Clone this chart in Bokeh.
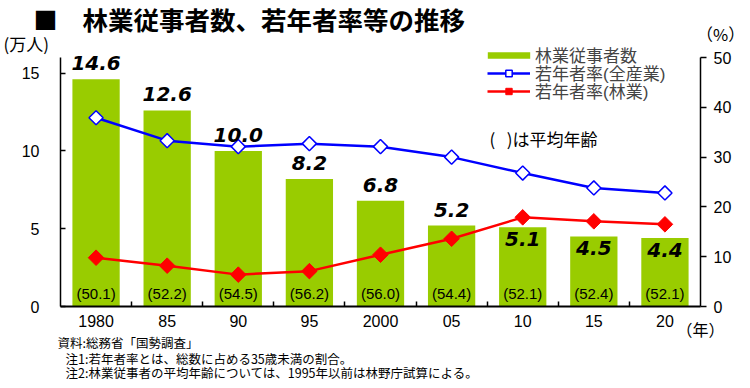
import numpy as np
from bokeh.plotting import figure
from bokeh.models import (Range1d, LinearAxis, FixedTicker, ColumnDataSource, Label,
                          Legend, LegendItem)
from bokeh.core.properties import value
from bokeh.embed import file_html
from bokeh.resources import INLINE

# ---------------- data ----------------
years = ["1980", "85", "90", "95", "2000", "05", "10", "15", "20"]
workers = [14.6, 12.6, 10.0, 8.2, 6.8, 5.2, 5.1, 4.5, 4.4]          # 万人
young_all = [37.9, 33.3, 32.1, 32.7, 32.1, 30.0, 26.8, 23.8, 22.8]  # % 全産業
young_forest = [9.8, 8.2, 6.4, 7.1, 10.4, 13.6, 17.9, 17.1, 16.5]   # % 林業
avg_age = ["50.1", "52.2", "54.5", "56.2", "56.0", "54.4", "52.1", "52.4", "52.1"]

title = "林業従事者数、若年者率等の推移"
series_names = ["林業従事者数", "若年者率(全産業)", "若年者率(林業)"]
notes = ["資料:総務省「国勢調査」",
         "注1:若年者率とは、総数に占める35歳未満の割合。",
         "注2:林業従事者の平均年齢については、1995年以前は林野庁試算による。"]

# ---------------- layout ----------------
W, H = 750, 388
AX_L, AX_R, AX_T, AX_B = 60, 700, 57, 306   # axes box (pixels)
CJK = "Noto Sans CJK JP"
GREEN = "#99CC00"

n = len(years)
xs = list(range(n))
x_ppu = (AX_R - AX_L) / n
y_max, p_max = 16, 50
y_ppu = (AX_B - AX_T) / y_max
p_ppu = (AX_B - AX_T) / p_max

p = figure(width=W, height=H, output_backend="svg", toolbar_location=None,
           x_range=Range1d(-0.5 - AX_L / x_ppu, n - 0.5 + (W - AX_R) / x_ppu),
           y_range=Range1d(-(H - AX_B) / y_ppu, AX_B / y_ppu),
           min_border=0, x_axis_type=None, y_axis_type=None)
p.outline_line_color = None
p.xgrid.visible = False
p.ygrid.visible = False
p.extra_y_ranges = {"pct": Range1d(-(H - AX_B) / p_ppu, AX_B / p_ppu)}

# axes
yl = LinearAxis(ticker=FixedTicker(ticks=[0, 5, 10, 15]), fixed_location=-0.5, bounds=(0, y_max))
yl.major_tick_in = 5
yl.major_tick_out = 0
yl.minor_tick_line_color = None
yl.major_label_standoff = 21
yl.axis_line_width = 1.5
yl.major_tick_line_width = 1.5
yl.major_label_text_font = "Liberation Sans"
yl.major_label_text_font_size = "16px"
yl.major_label_text_color = "black"
p.add_layout(yl, "left")

yr = LinearAxis(y_range_name="pct", ticker=FixedTicker(ticks=[0, 10, 20, 30, 40, 50]),
                fixed_location=n - 0.5, bounds=(0, p_max))
yr.major_tick_in = 0
yr.major_tick_out = 6
yr.minor_tick_line_color = None
yr.major_label_standoff = 7
yr.axis_line_width = 1.5
yr.major_tick_line_width = 1.5
yr.major_label_text_font = "Liberation Sans"
yr.major_label_text_font_size = "16px"
yr.major_label_text_color = "black"
p.add_layout(yr, "right")

xa = LinearAxis(ticker=FixedTicker(ticks=xs, minor_ticks=[i + 0.5 for i in xs[:-1]]),
                fixed_location=0, bounds=(-0.5, n - 0.5))
xa.major_label_overrides = {i: y for i, y in zip(xs, years)}
xa.major_tick_in = 0
xa.major_tick_out = 0
xa.minor_tick_in = 5
xa.minor_tick_out = 0
xa.minor_tick_line_width = 1.5
xa.major_label_standoff = 8
xa.axis_line_width = 2
xa.major_label_text_font = "Liberation Sans"
xa.major_label_text_font_size = "16px"
xa.major_label_text_color = "black"
p.add_layout(xa, "below")

# bars
src = ColumnDataSource(dict(
    x=xs, top=workers, lab=[f"{v:.1f}" for v in workers],
    off=[-16, -16, -16, -16, -16, -16, 12, 12, 12],
    age=[f"({a})" for a in avg_age],
    all=young_all, forest=young_forest))
bars = p.vbar(x="x", top="top", width=0.665, source=src, fill_color=GREEN, line_color=None)

# lines
l1 = p.line("x", "all", source=src, y_range_name="pct", line_color="#0000FF", line_width=2.5)
m1 = p.scatter("x", "all", source=src, y_range_name="pct", marker="square", angle=np.pi / 4,
               size=10, fill_color="white", line_color="#0000FF", line_width=1.5)
l2 = p.line("x", "forest", source=src, y_range_name="pct", line_color="#FF0000", line_width=2.5)
m2 = p.scatter("x", "forest", source=src, y_range_name="pct", marker="square", angle=np.pi / 4,
               size=11, fill_color="#FF0000", line_color="#FF0000")

# value labels
p.text("x", "top", text="lab", source=src, y_offset="off", text_align="center",
       text_baseline="middle", text_font=value("DejaVu Sans"), text_font_style="bold italic",
       text_font_size="20px", text_color="black")
p.text("x", 0, text="age", source=src, y_offset=-13, text_align="center",
       text_baseline="middle", text_font=value("Liberation Sans"),
       text_font_size="15px", text_color="black")

# legend: one entry per Legend so rows can sit tightly
legend_rows = [  # (renderers, row centre y, left x, glyph w, glyph h, standoff)
    ([bars], 55, 482, 53, 8, 0),
    ([l1, m1], 73, 487, 43, 16, 5),
    ([l2, m2], 91, 487, 43, 16, 5),
]
for name, (rends, cy, lx, gw, gh, so) in zip(series_names, legend_rows):
    leg = Legend(items=[LegendItem(label=name, renderers=rends)],
                 location=(lx, H - cy - 12), orientation="vertical")
    leg.glyph_width = gw
    leg.glyph_height = gh
    leg.label_standoff = so
    leg.label_text_font = "Liberation Sans, Noto Sans CJK JP"
    leg.label_text_font_size = "17px"
    leg.label_height = 18
    leg.spacing = 0
    leg.padding = 0
    leg.margin = 0
    leg.border_line_color = None
    leg.background_fill_alpha = 0
    p.add_layout(leg)

# texts (pixel coords from top-left -> screen coords)
def lab(text, px, py, size, font=CJK, style="normal", align="left"):
    p.add_layout(Label(x=px, y=H - py, x_units="screen", y_units="screen",
                       text=text, text_font=font, text_font_size=f"{size}px",
                       text_font_style=style, text_baseline="middle",
                       text_align=align, text_color="black"))

lab("■", 33, 18, 24, style="bold")
lab(title, 82, 18, 25.5, style="bold")
lab("(万人)", 3, 43, 17)
lab("（%）", 696, 33, 16.5)
lab("（年）", 676, 328, 16)
lab("(\u00a0\u00a0\u00a0)は平均年齢", 489, 138, 17)
lab(notes[0], 57, 342, 12.5)
lab(notes[1], 65, 358, 12.5)
lab(notes[2], 65, 372, 12.5)

open("out.html", "w").write(file_html(p, INLINE))
